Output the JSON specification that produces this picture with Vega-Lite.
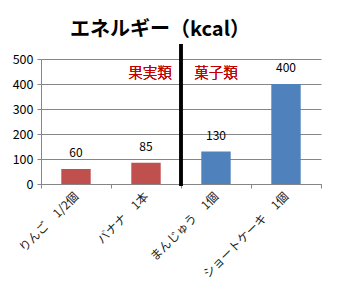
{
  "$schema": "https://vega.github.io/schema/vega-lite/v6.json",
  "width": 280,
  "height": 125,
  "autosize": {"type": "none"},
  "padding": {"left": 41, "top": 59, "right": 18, "bottom": 109},
  "background": "white",
  "config": {
    "view": {"stroke": null},
    "font": "Noto Sans CJK JP",
    "axisY": {"labelOverlap": false}
  },
  "title": {
    "text": "エネルギー（kcal）",
    "fontSize": 20,
    "fontWeight": "bold",
    "font": "Noto Sans CJK JP",
    "color": "black",
    "anchor": "middle",
    "dx": -21,
    "offset": -17,
    "baseline": "bottom"
  },
  "datasets": {
    "items": [
      {"item": "りんご　1/2個", "kcal": 60, "group": "果実類"},
      {"item": "バナナ　1本", "kcal": 85, "group": "果実類"},
      {"item": "まんじゅう　1個", "kcal": 130, "group": "菓子類"},
      {"item": "ショートケーキ　1個", "kcal": 400, "group": "菓子類"}
    ]
  },
  "data": {"name": "items"},
  "encoding": {
    "x": {
      "field": "item",
      "type": "nominal",
      "sort": null,
      "scale": {"paddingInner": 0, "paddingOuter": 0},
      "axis": {
        "title": null,
        "labelAngle": -45,
        "labelAlign": "right",
        "labelBaseline": "middle",
        "labelFontSize": 12,
        "labelFontWeight": "normal",
        "labelColor": "#222222",
        "labelPadding": 6,
        "tickBand": "extent",
        "tickSize": 4,
        "tickColor": "#868686",
        "domainColor": "#868686",
        "labelFont": "Noto Sans CJK JP"
      }
    },
    "y": {
      "field": "kcal",
      "type": "quantitative",
      "scale": {"domain": [0, 500]},
      "axis": {
        "title": null,
        "values": [0, 100, 200, 300, 400, 500],
        "labelOverlap": false,
        "grid": true,
        "gridColor": "#868686",
        "tickColor": "#868686",
        "domainColor": "#868686",
        "tickSize": 4,
        "labelFontSize": 12.5,
        "labelColor": "black",
        "labelPadding": 4,
        "labelFont": "Noto Sans CJK JP"
      }
    }
  },
  "layer": [
    {
      "mark": {"type": "bar", "width": {"band": 0.42}},
      "encoding": {
        "color": {
          "field": "group",
          "type": "nominal",
          "scale": {"domain": ["果実類", "菓子類"], "range": ["#C0504D", "#4F81BD"]},
          "legend": null
        }
      }
    },
    {
      "mark": {"type": "text", "dy": -9, "fontSize": 12, "fontWeight": "normal", "color": "black", "baseline": "bottom"},
      "encoding": {
        "text": {"field": "kcal", "type": "quantitative"}
      }
    },
    {
      "mark": {"type": "text", "fontSize": 14.5, "fontWeight": 300, "color": "#C00000", "dx": 4},
      "encoding": {
        "x": {"datum": "バナナ　1本"},
        "y": {"datum": 440},
        "text": {"value": "果実類"}
      }
    },
    {
      "mark": {"type": "text", "fontSize": 14.5, "fontWeight": 300, "color": "#C00000"},
      "encoding": {
        "x": {"datum": "まんじゅう　1個", "bandPosition": 0.5},
        "y": {"datum": 440},
        "text": {"value": "菓子類"}
      }
    },
    {
      "mark": {"type": "rule", "strokeWidth": 3, "color": "black", "clip": false},
      "encoding": {
        "x": {"datum": "まんじゅう　1個", "bandPosition": 0},
        "y": {"datum": 560},
        "y2": {"datum": -8}
      }
    }
  ]
}
